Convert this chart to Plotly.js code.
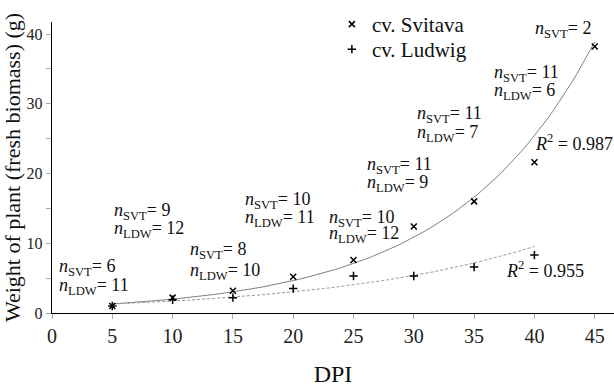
<!DOCTYPE html>
<html>
<head>
<meta charset="utf-8">
<script src="https://cdn.plot.ly/plotly-3.0.1.min.js"></script>
<style>html,body{margin:0;padding:0;background:#fff;}#chart{width:614px;height:387px;}</style>
</head>
<body>
<div id="chart"></div>
<script>
// ---- data ----
const dpi = [5, 10, 15, 20, 25, 30, 35, 40, 45];
const svitava = [1.0, 2.2, 3.2, 5.2, 7.6, 12.4, 16.0, 21.6, 38.2];
const dpiLudwig = [5, 10, 15, 20, 25, 30, 35, 40];
const ludwig = [1.0, 1.9, 2.2, 3.5, 5.3, 5.3, 6.6, 8.3];
const nSVT = [6, 9, 8, 10, 10, 11, 11, 11, 2];
const nLDW = [11, 12, 10, 11, 12, 9, 7, 6, null];
const r2Svitava = "0.987";
const r2Ludwig = "0.955";
const xTicks = [0, 5, 10, 15, 20, 25, 30, 35, 40, 45];
const yTicks = [0, 10, 20, 30, 40];

// exponential least-squares fit (on ln y) computed from the data
function expFit(xs, ys) {
  const n = xs.length;
  const ly = ys.map(Math.log);
  const mx = xs.reduce((a, b) => a + b, 0) / n;
  const my = ly.reduce((a, b) => a + b, 0) / n;
  let sxy = 0, sxx = 0;
  for (let i = 0; i < n; i++) { sxy += (xs[i] - mx) * (ly[i] - my); sxx += (xs[i] - mx) ** 2; }
  const b = sxy / sxx, a = my - b * mx;
  const x0 = Math.min(...xs), x1 = Math.max(...xs);
  const cx = [], cy = [];
  for (let i = 0; i <= 80; i++) { const x = x0 + (x1 - x0) * i / 80; cx.push(x); cy.push(Math.exp(a + b * x)); }
  return {x: cx, y: cy};
}
const fitS = expFit(dpi, svitava);
const fitL = expFit(dpiLudwig, ludwig);

const FONT = "Liberation Serif, Times New Roman, serif";

const traces = [
  {x: fitS.x, y: fitS.y, mode: 'lines', line: {color: '#808080', width: 1}, showlegend: false, hoverinfo: 'skip'},
  {x: fitL.x, y: fitL.y, mode: 'lines', line: {color: '#9a9a9a', width: 1, dash: '3px,2px'}, showlegend: false, hoverinfo: 'skip'},
  {x: dpi, y: svitava, mode: 'markers', name: 'cv. Svitava', legend: 'legend',
   marker: {symbol: 'x-thin', size: 6, color: '#000', line: {color: '#000', width: 1.5}}},
  {x: dpiLudwig, y: ludwig, mode: 'markers', name: 'cv. Ludwig', legend: 'legend2',
   marker: {symbol: 'cross-thin', size: 6, color: '#000', line: {color: '#000', width: 1.5}}}
];

// label positions: [x left, y of SVT line, y of LDW line]
const labelPos = [
  [0.39, 6.5, 3.8], [4.95, 14.5, 12.0], [11.3, 8.9, 5.95], [15.85, 16.2, 13.6],
  [22.8, 13.6, 11.2], [25.95, 21.2, 18.6], [30.1, 28.5, 25.8], [36.45, 34.3, 31.8], [39.9, 40.6, null]
];
const annFont = {family: FONT, size: 18, color: '#111'};
const annotations = [];
nSVT.forEach((v, i) => {
  const p = labelPos[i];
  annotations.push({x: p[0], y: p[1], xref: 'x', yref: 'y', xanchor: 'left', yanchor: 'middle', showarrow: false,
    text: '<i>n</i><sub>SVT</sub>= ' + v, font: annFont});
  if (nLDW[i] !== null) {
    annotations.push({x: p[0], y: p[2], xref: 'x', yref: 'y', xanchor: 'left', yanchor: 'middle', showarrow: false,
      text: '<i>n</i><sub>LDW</sub>= ' + nLDW[i], font: annFont});
  }
});
annotations.push({x: 39.9, y: 24.5, xref: 'x', yref: 'y', xanchor: 'left', yanchor: 'middle', showarrow: false,
  text: '<i>R</i><sup>2</sup> = ' + r2Svitava, font: annFont});
annotations.push({x: 37.5, y: 6.2, xref: 'x', yref: 'y', xanchor: 'left', yanchor: 'middle', showarrow: false,
  text: '<i>R</i><sup>2</sup> = ' + r2Ludwig, font: annFont});

const legFont = {family: FONT, size: 21, color: '#111'};
const layout = {
  width: 614, height: 387,
  margin: {l: 52, r: 0, t: 22, b: 74, pad: 0},
  paper_bgcolor: '#fff', plot_bgcolor: '#fff',
  font: {family: FONT, color: '#111'},
  showlegend: true,
  legend: {x: 0.498, y: 1.062, xanchor: 'left', yanchor: 'top', font: legFont,
           bgcolor: 'rgba(0,0,0,0)', borderwidth: 0, itemwidth: 30},
  legend2: {x: 0.498, y: 0.976, xanchor: 'left', yanchor: 'top', font: legFont,
           bgcolor: 'rgba(0,0,0,0)', borderwidth: 0, itemwidth: 30},
  xaxis: {range: [0, 46.6], tickvals: xTicks, ticktext: xTicks.map(String), showgrid: false, zeroline: false,
          showline: true, linecolor: '#000', linewidth: 1.3, ticks: 'outside', ticklen: 5, tickcolor: '#aaa', tickwidth: 1,
          tickfont: {family: FONT, size: 20, color: '#222'},
          title: {text: 'DPI', font: {family: FONT, size: 24, color: '#111'}, standoff: 22}},
  yaxis: {range: [0, 41.72], tickvals: yTicks, ticktext: yTicks.map(String), showgrid: false, zeroline: false,
          showline: true, linecolor: '#000', linewidth: 1.3, ticks: 'outside', ticklen: 5, tickcolor: '#aaa', tickwidth: 1,
          minor: {tickvals: [5, 15, 25, 35], ticks: 'outside', ticklen: 5, tickcolor: '#aaa', showgrid: false},
          tickfont: {family: FONT, size: 16, color: '#222'},
          title: {text: 'Weight of plant (fresh biomass) (g)', font: {family: FONT, size: 22, color: '#111'}, standoff: 0}},
  annotations: annotations
};

Plotly.newPlot('chart', traces, layout, {staticPlot: true, displayModeBar: false});
</script>
</body>
</html>
